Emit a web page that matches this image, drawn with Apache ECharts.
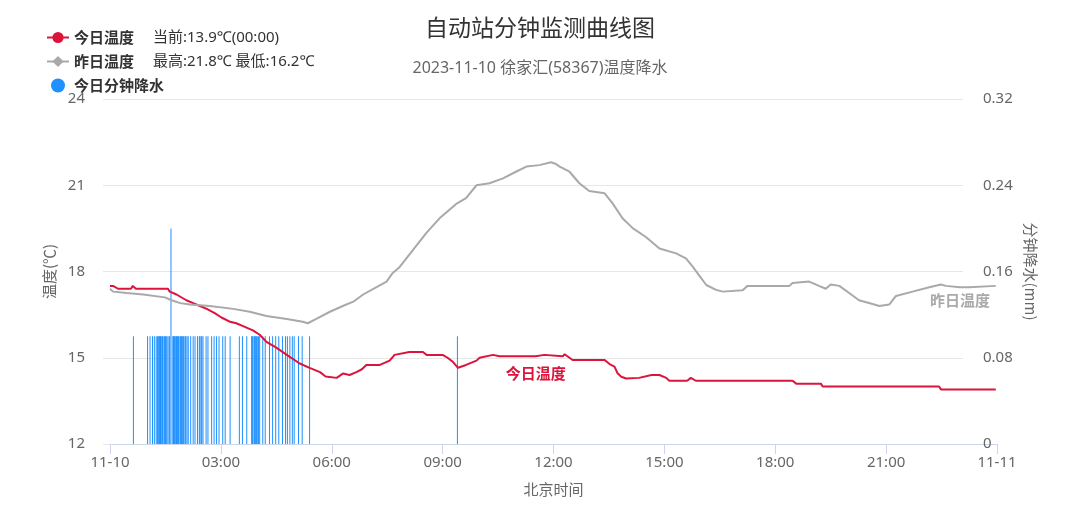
<!DOCTYPE html>
<html><head><meta charset="utf-8">
<script src="https://cdn.jsdelivr.net/npm/echarts@6/dist/echarts.min.js"></script>
<style>html,body{margin:0;padding:0;background:#fff}#c{width:1080px;height:516px}</style>
</head><body><div id="c"></div>
<script>
const FONT = '"Noto Sans", "Noto Sans CJK SC", sans-serif';
const CJK = '"Noto Sans CJK SC", "Noto Sans", sans-serif';

// x axis ticks (minutes of day, every 3 hours)
const xTickLabels = ['11-10','03:00','06:00','09:00','12:00','15:00','18:00','21:00','11-11'];
const tempTicks = [12, 15, 18, 21, 24];
const rainTicks = [0, 0.08, 0.16, 0.24, 0.32];

// 今日温度 (minute of day, ℃)
const todayMinutes = [0,5,13,34,37,42,94,97,108,124,135,146,157,170,181,195,205,216,232,243,254,270,287,308,324,341,350,368,378,389,400,409,416,438,454,462,486,508,514,540,548,557,565,578,595,600,622,632,676,691,705,735,738,751,803,811,819,824,830,838,859,879,892,903,908,937,943,951,1108,1114,1154,1157,1346,1349,1438];
const todayTemps   = [17.5,17.5,17.4,17.4,17.5,17.4,17.4,17.3,17.2,17.0,16.9,16.8,16.7,16.55,16.4,16.25,16.2,16.1,15.95,15.8,15.55,15.35,15.1,14.8,14.65,14.5,14.35,14.3,14.45,14.4,14.5,14.6,14.75,14.75,14.9,15.1,15.2,15.2,15.1,15.1,15.0,14.85,14.65,14.75,14.9,15.0,15.1,15.05,15.05,15.05,15.1,15.05,15.12,14.92,14.92,14.78,14.69,14.46,14.34,14.28,14.3,14.4,14.4,14.3,14.2,14.2,14.3,14.2,14.2,14.1,14.1,14.0,14.0,13.9,13.9];
const todayLabelMinute = 691;

// 昨日温度 (minute of day, ℃)
const yestMinutes = [0,5,27,54,89,100,114,130,162,200,227,254,287,313,321,335,357,378,395,411,432,449,459,470,492,514,535,562,578,595,616,638,659,676,697,716,723,730,746,762,778,803,816,832,849,870,892,919,935,946,957,968,984,995,1027,1035,1103,1108,1135,1151,1162,1170,1184,1200,1216,1238,1249,1265,1276,1303,1330,1349,1357,1380,1395,1438];
const yestTemps   = [17.4,17.3,17.25,17.2,17.1,17.0,16.9,16.85,16.8,16.7,16.6,16.45,16.35,16.25,16.2,16.35,16.6,16.8,16.95,17.2,17.45,17.65,17.95,18.15,18.75,19.35,19.85,20.35,20.55,21.0,21.07,21.24,21.47,21.65,21.7,21.8,21.75,21.65,21.47,21.07,20.8,20.72,20.37,19.85,19.5,19.2,18.8,18.63,18.46,18.17,17.85,17.53,17.36,17.3,17.35,17.5,17.5,17.6,17.65,17.5,17.4,17.55,17.5,17.25,17.0,16.87,16.8,16.85,17.15,17.3,17.45,17.55,17.5,17.45,17.45,17.5];
const yestLabelMinute = 1380;

// 今日分钟降水 (minute of day, mm)
const rainMinutes = [38,61,65,69,72,75,77,79,80,81,82,84,85,86,88,89,90,92,94,96,97,99,102,103,104,105,106,108,109,110,111,112,114,115,116,118,119,120,122,123,125,127,131,135,138,142,145,146,148,149,151,156,159,165,169,173,177,183,187,195,210,215,222,230,231,232,234,235,236,238,239,241,243,248,252,259,264,269,274,280,285,288,292,296,299,306,312,324,564];
const rainValues  = [0.1,0.1,0.1,0.1,0.1,0.1,0.1,0.1,0.1,0.1,0.1,0.1,0.1,0.1,0.1,0.1,0.1,0.1,0.1,0.1,0.1,0.2,0.1,0.1,0.1,0.1,0.1,0.1,0.1,0.1,0.1,0.1,0.1,0.1,0.1,0.1,0.1,0.1,0.1,0.1,0.1,0.1,0.1,0.1,0.1,0.1,0.1,0.1,0.1,0.1,0.1,0.1,0.1,0.1,0.1,0.1,0.1,0.1,0.1,0.1,0.1,0.1,0.1,0.1,0.1,0.1,0.1,0.1,0.1,0.1,0.1,0.1,0.1,0.1,0.1,0.1,0.1,0.1,0.1,0.1,0.1,0.1,0.1,0.1,0.1,0.1,0.1,0.1,0.1];

const todayInfo = '当前:13.9℃(00:00)';
const yestInfo = '最高:21.8℃ 最低:16.2℃';

const RED = '#dc143c', GRAY = '#a9a9a9', BLUE = '#1e90ff';

function lineData(ms, vs, labelMinute, labelColor, labelText, dist) {
  return ms.map((m, i) => {
    const item = { value: [m, vs[i]] };
    if (m === labelMinute) {
      item.symbolSize = 1;
      item.label = { show: true, position: 'bottom', distance: dist, formatter: labelText,
        color: labelColor, fontWeight: 'bold', fontSize: 15, fontFamily: CJK };
    }
    return item;
  });
}

const chart = echarts.init(document.getElementById('c'), null, { renderer: 'canvas' });
const tMin = tempTicks[0], tMax = tempTicks[tempTicks.length - 1];
const rMin = rainTicks[0], rMax = rainTicks[rainTicks.length - 1];

chart.setOption({
  animation: false,
  backgroundColor: '#fff',
  textStyle: { fontFamily: FONT },
  title: {
    text: '自动站分钟监测曲线图', subtext: '2023-11-10 徐家汇(58367)温度降水',
    left: 'center', top: 11, itemGap: 21,
    textStyle: { fontSize: 23, fontWeight: 'normal', color: '#333', fontFamily: CJK },
    subtextStyle: { fontSize: 16, color: '#666', fontFamily: FONT }
  },
  legend: {
    orient: 'vertical', left: 41, top: 25, itemGap: 9, itemWidth: 22, itemHeight: 14,
    data: [{ name: '今日温度' }, { name: '昨日温度' }, { name: '今日分钟降水', icon: 'circle' }],
    formatter: function (name) {
      if (name === '今日温度') return '{n|' + name + '}{i|' + todayInfo + '}';
      if (name === '昨日温度') return '{n|' + name + '}{i|' + yestInfo + '}';
      return '{n|' + name + '}';
    },
    textStyle: {
      fontFamily: FONT,
      rich: {
        n: { fontWeight: 'bold', fontSize: 15, color: '#333', width: 79, fontFamily: CJK },
        i: { fontSize: 15, color: '#333', fontFamily: FONT }
      }
    }
  },
  grid: [
    { left: 103, right: 117, top: 99, bottom: 72 },
    { left: 110, right: 83, top: 99, bottom: 72 }
  ],
  xAxis: [
    { gridIndex: 0, type: 'value', min: 0, max: 1440, show: false },
    {
      gridIndex: 1, type: 'value', min: 0, max: 1440, interval: 180,
      name: '北京时间', nameLocation: 'middle', nameGap: 38,
      nameTextStyle: { fontSize: 15, color: '#666', fontFamily: CJK },
      axisLine: { show: true, lineStyle: { color: '#ccd6eb', width: 1 } },
      axisTick: { show: true, length: 10, lineStyle: { color: '#ccd6eb' } },
      axisLabel: { color: '#666', fontSize: 15, margin: 11, fontFamily: FONT,
        formatter: function (v) { return xTickLabels[Math.round(v / 180)]; } },
      splitLine: { show: false }
    }
  ],
  yAxis: [
    {
      gridIndex: 0, type: 'value', position: 'left', min: tMin, max: tMax, interval: 3,
      name: '温度(℃)', nameLocation: 'middle', nameGap: 46, nameRotate: 90,
      nameTextStyle: { fontSize: 15, color: '#666', fontFamily: CJK },
      axisLine: { show: false }, axisTick: { show: false },
      axisLabel: { color: '#666', fontSize: 15, margin: 18, fontFamily: FONT },
      splitLine: { show: true, lineStyle: { color: '#e6e6e6', width: 1 } }
    },
    {
      gridIndex: 0, type: 'value', position: 'right', min: rMin, max: rMax, interval: 0.08,
      name: '分钟降水(mm)', nameLocation: 'middle', nameGap: 57, nameRotate: -90,
      nameTextStyle: { fontSize: 15, color: '#666', fontFamily: CJK },
      axisLine: { show: false }, axisTick: { show: false },
      axisLabel: { color: '#666', fontSize: 15, margin: 20, fontFamily: FONT,
        formatter: function (v) { return v === 0 ? '0' : v.toFixed(2); } },
      splitLine: { show: false }
    },
    { gridIndex: 1, type: 'value', min: tMin, max: tMax, show: false, splitLine: { show: false } },
    { gridIndex: 1, type: 'value', min: rMin, max: rMax, show: false, splitLine: { show: false } }
  ],
  series: [
    {
      name: '今日分钟降水', type: 'bar', xAxisIndex: 1, yAxisIndex: 3, barWidth: 1, barGap: '-100%',
      itemStyle: { color: BLUE }, z: 2,
      data: rainMinutes.map((m, i) => [m, rainValues[i]])
    },
    {
      name: '今日温度', type: 'line', xAxisIndex: 1, yAxisIndex: 2, symbol: 'circle', symbolSize: 0,
      showSymbol: true, lineStyle: { color: RED, width: 2 }, itemStyle: { color: RED }, z: 3,
      data: lineData(todayMinutes, todayTemps, todayLabelMinute, RED, '今日温度', 9)
    },
    {
      name: '昨日温度', type: 'line', xAxisIndex: 1, yAxisIndex: 2, symbol: 'diamond', symbolSize: 0,
      showSymbol: true, lineStyle: { color: GRAY, width: 2 }, itemStyle: { color: GRAY }, z: 3,
      data: lineData(yestMinutes, yestTemps, yestLabelMinute, GRAY, '昨日温度', 5)
    }
  ]
});
</script></body></html>
